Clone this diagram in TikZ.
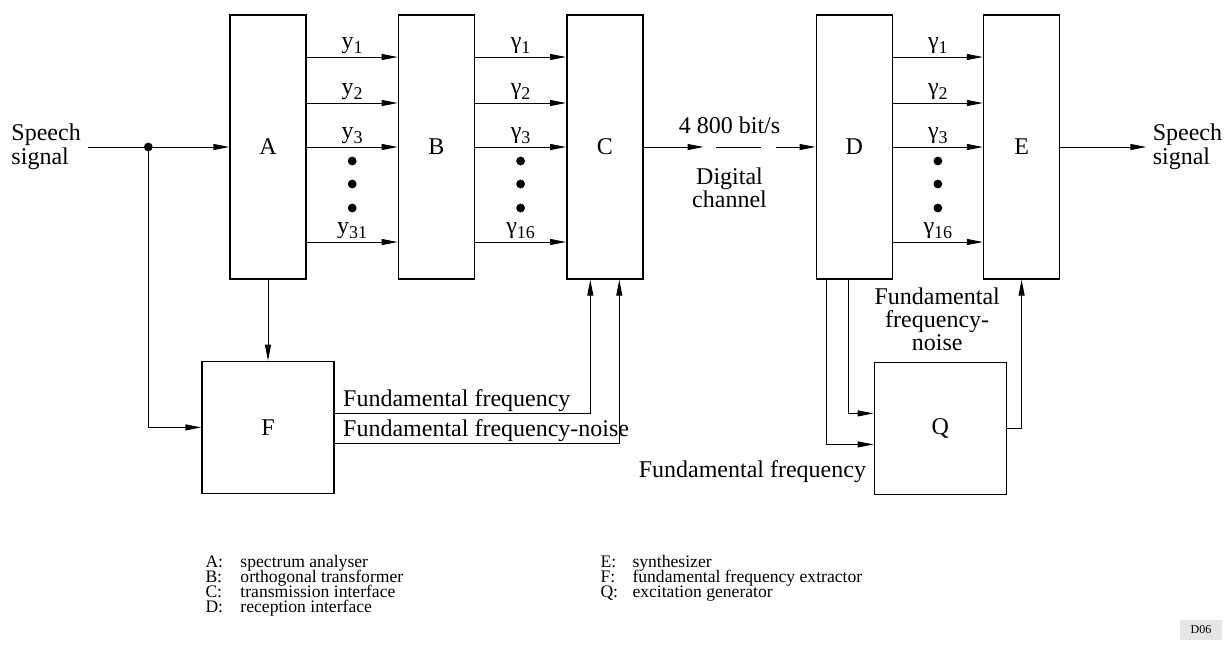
\documentclass[tikz,border=0pt]{standalone}
\usepackage{fontspec}
\setmainfont{Liberation Serif}
\usetikzlibrary{positioning,arrows.meta}

\begin{document}
\begin{tikzpicture}[x=0.5pt, y=-0.5pt, line width=0.5pt, font=\fontsize{12}{14}\selectfont,
    blk/.style = {draw, line width=0.7pt, minimum width=38pt, minimum height=132pt, inner sep=0pt},
    sq/.style = {draw, line width=0.7pt, minimum size=66pt, inner sep=0pt},
    sig/.style = {-{Triangle[length=8pt,width=3pt]}},
    lbl/.style = {midway, above, inner sep=1.5pt},
    key/.style = {anchor=base west, inner sep=0pt, font=\fontsize{8.8}{10}\selectfont}]
    \useasboundingbox (0,0) rectangle (1230,644);
    % Nodes
    \node[blk] (A) at (268,147) {A};
    \node[blk, right=45.5pt of A] (B) {B};
    \node[blk, right=45.5pt of B] (C) {C};
    \node[blk, right=86pt of C] (D) {D};
    \node[blk, right=45pt of D] (E) {E};
    \node[sq, below=40.5pt of A] (F) {F};
    \node[sq, below=41pt of D, xshift=43pt] (Q) {Q};
    \coordinate[left=40.5pt of A] (jn);
    \node[left=30pt of jn, inner sep=3.5pt, align=left, font=\fontsize{12}{9.5}\selectfont] (sin) {Speech\\signal};
    \node[right=43pt of E, inner sep=3pt, align=left, font=\fontsize{12}{9.5}\selectfont] (sout) {Speech\\signal};
    \coordinate[right=30pt of C] (chA);
    \coordinate[left=20pt of D] (chB);
    % Edges
    \draw (sin) -- (jn);
    \draw[sig] (jn) -- (A);
    \fill (jn) circle (2.2pt);
    \draw[sig] (jn) |- (F);
    \draw[sig] (A) -- (F);
    \foreach \off/\txt in {45/1, 22/2, 0/3, -47.5/31}
        \draw[sig] ([yshift=\off pt]A.east) -- ([yshift=\off pt]B.west)
            node[lbl] {y\raisebox{-2.5pt}{\fontsize{9}{9}\selectfont\txt}};
    \foreach \off/\txt in {45/1, 22/2, 0/3, -47.5/16} {
        \draw[sig] ([yshift=\off pt]B.east) -- ([yshift=\off pt]C.west)
            node[lbl] {γ\raisebox{-2.5pt}{\fontsize{9}{9}\selectfont\txt}};
        \draw[sig] ([yshift=\off pt]D.east) -- ([yshift=\off pt]E.west)
            node[lbl] {γ\raisebox{-2.5pt}{\fontsize{9}{9}\selectfont\txt}};
    }
    \path (A.east) -- (B.west) coordinate[midway] (ab);
    \path (B.east) -- (C.west) coordinate[midway] (bc);
    \path (D.east) -- (E.west) coordinate[midway] (de);
    \foreach \d in {7,18.5,30.5} {
        \fill ([yshift=-\d pt]ab) circle (2.2pt);
        \fill ([yshift=-\d pt]bc) circle (2.2pt);
        \fill ([yshift=-\d pt]de) circle (2.2pt);
    }
    % channel
    \draw[sig] (C) -- (chA);
    \draw ([xshift=6pt]chA) -- ([xshift=-7.5pt]chB);
    \draw[sig] (chB) -- (D);
    \path (C) -- (D) node[midway, anchor=base, inner sep=0pt, yshift=7pt] (rate) {4 800 bit/s}
        node[midway, below=10pt, inner sep=0pt, align=center, font=\fontsize{12}{10.5}\selectfont] (chan) {Digital\\channel};
    \draw[sig] (E) -- (sout);
    % F and Q
    \draw[sig] ([yshift=7pt]F.east) -| ([xshift=-7.25pt]C.south)
        node[pos=0, anchor=base west, inner sep=0pt, xshift=4pt, yshift=3.5pt] {Fundamental frequency};
    \draw[sig] ([yshift=-8pt]F.east) -| ([xshift=7.25pt]C.south)
        node[pos=0, anchor=base west, inner sep=0pt, xshift=4pt, yshift=3.5pt] {Fundamental frequency-noise};
    \draw[sig] ([xshift=-3pt]D.south) |- ([yshift=7.5pt]Q.west);
    \draw[sig] ([xshift=-14pt]D.south) |- ([yshift=-8pt]Q.west);
    \draw[sig] (Q) -| (E);
    \node[above=5pt of Q, xshift=-1.5pt, inner sep=0pt, align=center, font=\fontsize{12}{11.5}\selectfont] (fqn) {Fundamental\\frequency-\\noise};
    \node[anchor=base east, inner sep=0pt] (fq) at ([xshift=-3.5pt, yshift=9pt]Q.south west) {Fundamental frequency};
    % Legend
    \foreach \k/\t [count=\i] in {A/spectrum analyser, B/orthogonal transformer,
            C/transmission interface, D/reception interface}
        \node[key] (key\k) at (205, 552+15*\i) {\makebox[17.5pt][l]{\k:}\t};
    \foreach \k/\t [count=\i] in {E/synthesizer, F/fundamental frequency extractor, Q/excitation generator}
        \node[key] (key\k) at (600, 552+15*\i) {\makebox[16pt][l]{\k:}\t};
    \node[fill=black!10, inner sep=2pt, minimum width=21pt, minimum height=10pt, font=\fontsize{6}{7}\selectfont] (tag) at (1201,630) {D06};
\end{tikzpicture}
\end{document}
